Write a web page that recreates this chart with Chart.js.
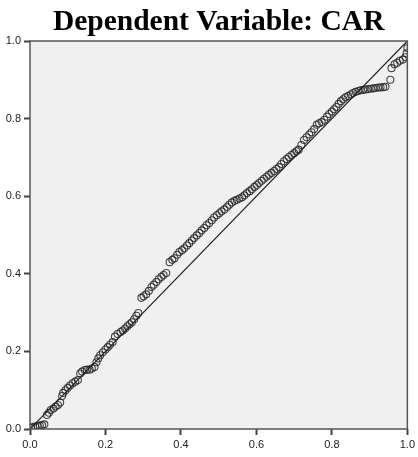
<!DOCTYPE html>
<html>
<head>
<meta charset="utf-8">
<script src="https://cdn.jsdelivr.net/npm/chart.js@4/dist/chart.umd.min.js"></script>
<style>
  html, body { margin: 0; padding: 0; background: #fff; }
  #wrap { width: 418px; height: 457px; }
</style>
</head>
<body>
<div id="wrap"><canvas id="chart" width="418" height="457"></canvas></div>
<script>
const titleText = 'Dependent Variable: CAR';
const tickValues = [0, 0.2, 0.4, 0.6, 0.8, 1.0];

const observedCum = [
  0.003, 0.008, 0.014, 0.020, 0.026, 0.032, 0.038, 0.045, 0.050, 0.055,
  0.062, 0.068, 0.074, 0.080, 0.085, 0.088, 0.094, 0.100, 0.106, 0.113,
  0.120, 0.127, 0.133, 0.138, 0.145, 0.151, 0.158, 0.164, 0.171, 0.176,
  0.181, 0.186, 0.193, 0.200, 0.206, 0.212, 0.219, 0.225, 0.232, 0.240,
  0.246, 0.252, 0.258, 0.264, 0.270, 0.276, 0.282, 0.287, 0.295, 0.301,
  0.308, 0.315, 0.322, 0.328, 0.335, 0.341, 0.348, 0.354, 0.361, 0.370,
  0.377, 0.383, 0.390, 0.396, 0.403, 0.409, 0.416, 0.422, 0.429, 0.435,
  0.442, 0.449, 0.455, 0.462, 0.468, 0.475, 0.482, 0.488, 0.495, 0.502,
  0.508, 0.515, 0.522, 0.528, 0.535, 0.542, 0.548, 0.555, 0.562, 0.568,
  0.575, 0.582, 0.588, 0.595, 0.601, 0.607, 0.614, 0.620, 0.627, 0.633,
  0.640, 0.647, 0.653, 0.660, 0.666, 0.673, 0.680, 0.686, 0.693, 0.700,
  0.706, 0.712, 0.719, 0.726, 0.733, 0.740, 0.746, 0.753, 0.760, 0.766,
  0.773, 0.780, 0.787, 0.793, 0.800, 0.806, 0.812, 0.818, 0.824, 0.830,
  0.836, 0.843, 0.850, 0.856, 0.863, 0.870, 0.876, 0.883, 0.889, 0.896,
  0.903, 0.910, 0.916, 0.923, 0.929, 0.936, 0.942, 0.955, 0.958, 0.966,
  0.973, 0.980, 0.988, 0.995, 0.998, 1.000
];
const expectedCum = [
  0.003, 0.005, 0.006, 0.008, 0.009, 0.010, 0.012, 0.036, 0.042, 0.049,
  0.053, 0.058, 0.062, 0.068, 0.085, 0.093, 0.100, 0.106, 0.112, 0.118,
  0.122, 0.126, 0.143, 0.148, 0.152, 0.153, 0.153, 0.156, 0.160, 0.172,
  0.182, 0.190, 0.198, 0.205, 0.211, 0.217, 0.224, 0.238, 0.245, 0.250,
  0.254, 0.259, 0.265, 0.270, 0.275, 0.283, 0.292, 0.299, 0.338, 0.342,
  0.347, 0.356, 0.366, 0.372, 0.379, 0.386, 0.392, 0.397, 0.402, 0.430,
  0.436, 0.440, 0.449, 0.456, 0.461, 0.466, 0.473, 0.479, 0.486, 0.492,
  0.499, 0.505, 0.512, 0.518, 0.525, 0.531, 0.538, 0.545, 0.551, 0.556,
  0.561, 0.566, 0.572, 0.578, 0.584, 0.588, 0.591, 0.594, 0.597, 0.602,
  0.608, 0.613, 0.618, 0.624, 0.629, 0.634, 0.640, 0.645, 0.650, 0.655,
  0.660, 0.665, 0.670, 0.675, 0.683, 0.690, 0.696, 0.701, 0.706, 0.711,
  0.716, 0.720, 0.732, 0.745, 0.752, 0.759, 0.765, 0.773, 0.784, 0.788,
  0.791, 0.797, 0.805, 0.812, 0.818, 0.824, 0.830, 0.838, 0.845, 0.850,
  0.855, 0.858, 0.862, 0.866, 0.869, 0.871, 0.873, 0.874, 0.875, 0.876,
  0.877, 0.878, 0.879, 0.880, 0.880, 0.881, 0.882, 0.900, 0.930, 0.940,
  0.944, 0.949, 0.952, 0.958, 0.968, 0.982
];
const diagonal = [0, 1];

const points = observedCum.map((x, i) => ({ x: x, y: expectedCum[i] }));

// grey plot area, box border and title drawn over the chart area
const frame = {
    id: 'frame',
    beforeDatasetsDraw(chart) {
        const { ctx, chartArea: a } = chart;
        ctx.save();
        ctx.fillStyle = '#f0f0f0';
        ctx.fillRect(a.left, a.top, a.right - a.left, a.bottom - a.top);
        ctx.restore();
    },
    afterDraw(chart) {
        const { ctx, chartArea: a } = chart;
        ctx.save();
        ctx.strokeStyle = '#555';
        ctx.lineWidth = 1.5;
        ctx.strokeRect(a.left, a.top, a.right - a.left, a.bottom - a.top);
        ctx.fillStyle = '#000';
        ctx.font = 'bold 29.5px "Liberation Serif"';
        ctx.textAlign = 'center';
        ctx.textBaseline = 'alphabetic';
        ctx.fillText(titleText, (a.left + a.right) / 2, 30);
        ctx.restore();
    }
};

const axisStyle = {
    type: 'linear',
    min: 0,
    max: 1,
    afterBuildTicks(axis) {
        axis.ticks = tickValues.map(v => ({ value: v }));
    },
    ticks: {
        color: '#222',
        font: { family: '"Liberation Sans", Arial, sans-serif', size: 11 },
        padding: 3,
        callback: v => v.toFixed(1)
    },
    grid: {
        drawOnChartArea: false,
        drawTicks: true,
        tickLength: 6,
        tickWidth: 2,
        tickColor: '#444'
    },
    border: { display: false }
};

new Chart(document.getElementById('chart'), {
    type: 'scatter',
    plugins: [frame],
    data: {
        datasets: [
            {
                type: 'line',
                data: diagonal.map(v => ({ x: v, y: v })),
                borderColor: '#222',
                borderWidth: 1.2,
                pointRadius: 0,
                fill: false
            },
            {
                data: points,
                pointStyle: 'circle',
                pointRadius: 3.5,
                borderWidth: 1.1,
                borderColor: 'rgba(40,40,40,0.85)',
                backgroundColor: 'rgba(0,0,0,0)'
            }
        ]
    },
    options: {
        responsive: false,
        animation: false,
        layout: { padding: { top: 41, right: 9, left: 0, bottom: 0 } },
        plugins: {
            legend: { display: false },
            title: { display: false },
            tooltip: { enabled: false }
        },
        scales: {
            x: Object.assign({}, axisStyle, {
                afterFit(axis) { axis.height = 28; }
            }),
            y: Object.assign({}, axisStyle, {
                afterFit(axis) { axis.width = 30; }
            })
        }
    }
});
</script>
</body>
</html>
